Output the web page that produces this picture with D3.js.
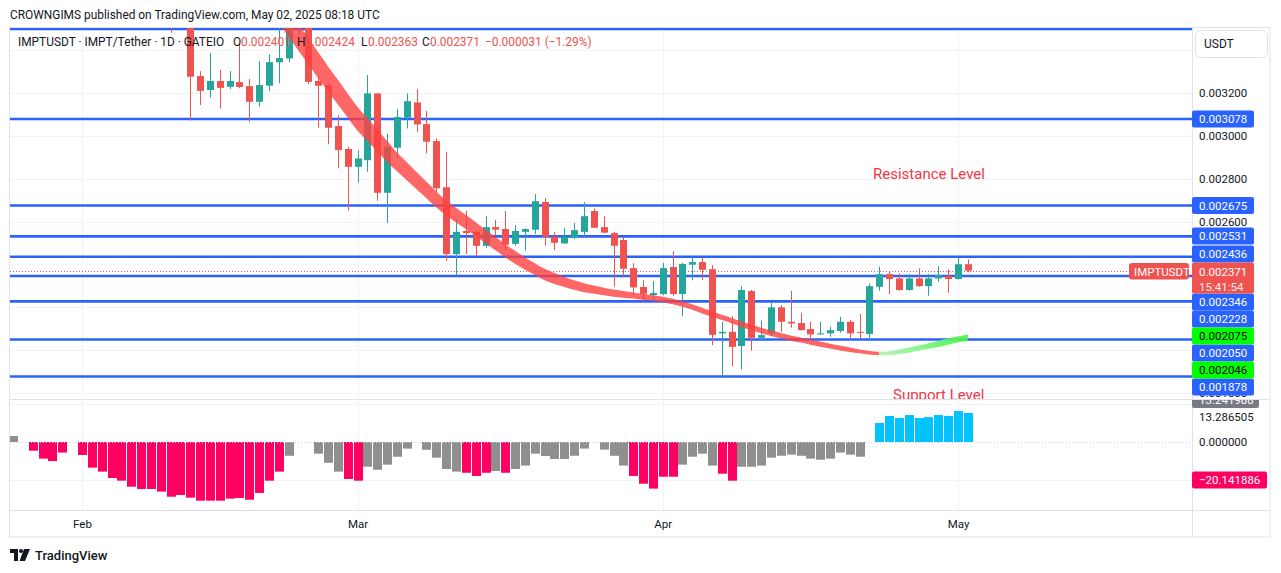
<!DOCTYPE html>
<html>
<head>
<meta charset="utf-8">
<script src="https://cdn.jsdelivr.net/npm/d3@7/dist/d3.min.js"></script>
<style>
html,body{margin:0;padding:0;background:#fff;}
svg{display:block;}
text{font-family:Roboto,"Noto Sans",Arial,sans-serif;}
</style>
</head>
<body>
<svg id="chart" width="1281" height="573"></svg>
<script>
// ---------------- DATA ----------------
const candleStart = "2025-02-10";
const candleOpen  = [0.003720,0.003600,0.003550,0.003278,0.003213,0.003255,0.003228,0.003250,0.003231,0.003158,
  0.003233,0.003342,0.003360,0.003530,0.003570,0.003255,0.003236,0.003045,0.002938,0.002855,
  0.002886,0.003197,0.002734,0.002944,0.003084,0.003155,0.003054,0.002975,0.002760,0.002448,
  0.002556,0.002552,0.002487,0.002574,0.002565,0.002496,0.002552,0.002562,0.002691,0.002529,
  0.002498,0.002524,0.002552,0.002649,0.002574,0.002546,0.002514,0.002383,0.002295,0.002257,
  0.002262,0.002388,0.002262,0.002399,0.002411,0.002378,0.002079,0.002086,0.002020,0.002276,
  0.002058,0.002079,0.002200,0.002133,0.002127,0.002099,0.002074,0.002079,0.002090,0.002133,
  0.002086,0.002076,0.002296,0.002355,0.002335,0.002281,0.002335,0.002299,0.002335,0.002346,
  0.002332,0.002401];
const candleHigh  = [0.003750,0.003680,0.003580,0.003301,0.003385,0.003306,0.003301,0.003430,0.003264,0.003348,
  0.003380,0.003539,0.003620,0.003630,0.003600,0.003278,0.003245,0.003096,0.002948,0.002933,
  0.003283,0.003199,0.003009,0.003124,0.003197,0.003217,0.003115,0.002988,0.002925,0.002610,
  0.002650,0.002556,0.002625,0.002607,0.002649,0.002584,0.002568,0.002728,0.002709,0.002551,
  0.002570,0.002594,0.002691,0.002661,0.002625,0.002552,0.002529,0.002406,0.002327,0.002323,
  0.002408,0.002462,0.002408,0.002433,0.002433,0.002397,0.002133,0.002159,0.002299,0.002281,
  0.002138,0.002226,0.002211,0.002277,0.002175,0.002133,0.002133,0.002110,0.002156,0.002141,
  0.002169,0.002312,0.002390,0.002369,0.002358,0.002355,0.002382,0.002355,0.002392,0.002377,
  0.002433,0.002424];
const candleLow   = [0.003480,0.003520,0.003070,0.003143,0.003177,0.003127,0.003217,0.003221,0.003063,0.003135,
  0.003208,0.003244,0.003342,0.003469,0.003241,0.003037,0.002960,0.002848,0.002650,0.002781,
  0.002832,0.002697,0.002594,0.002894,0.003034,0.003018,0.002918,0.002736,0.002417,0.002347,
  0.002448,0.002439,0.002478,0.002537,0.002467,0.002487,0.002464,0.002542,0.002487,0.002467,
  0.002497,0.002517,0.002529,0.002570,0.002546,0.002296,0.002340,0.002257,0.002226,0.002226,
  0.002256,0.002254,0.002161,0.002327,0.002327,0.002024,0.001877,0.001926,0.001910,0.001998,
  0.002044,0.002066,0.002086,0.002105,0.002092,0.002048,0.002073,0.002063,0.002082,0.002052,
  0.002056,0.002044,0.002277,0.002262,0.002278,0.002278,0.002296,0.002254,0.002319,0.002268,
  0.002330,0.002363];
const candleClose = [0.003600,0.003550,0.003275,0.003209,0.003255,0.003223,0.003255,0.003227,0.003158,0.003236,
  0.003343,0.003362,0.003560,0.003590,0.003251,0.003233,0.003037,0.002933,0.002855,0.002894,
  0.003197,0.002734,0.002947,0.003087,0.003161,0.003053,0.002972,0.002755,0.002448,0.002552,
  0.002546,0.002487,0.002574,0.002562,0.002492,0.002556,0.002565,0.002695,0.002529,0.002501,
  0.002529,0.002560,0.002625,0.002571,0.002548,0.002487,0.002380,0.002293,0.002263,0.002267,
  0.002383,0.002262,0.002402,0.002411,0.002375,0.002072,0.002086,0.002016,0.002281,0.002058,
  0.002071,0.002200,0.002133,0.002125,0.002094,0.002074,0.002079,0.002094,0.002133,0.002079,
  0.002083,0.002299,0.002355,0.002332,0.002281,0.002335,0.002299,0.002335,0.002350,0.002332,
  0.002401,0.002371];

const bandStart = "2025-02-21";
const bandTrendUpFrom = "2025-04-23";
const bandUpper = [0.003653,0.003586,0.003522,0.003454,0.003389,0.003323,0.003261,0.003196,
  0.003134,0.003082,0.003029,0.002975,0.002922,0.002876,0.002830,0.002785,0.002740,0.002698,0.002664,0.002630,
  0.002597,0.002562,0.002529,0.002494,0.002464,0.002433,0.002406,0.002380,0.002360,0.002341,0.002326,0.002313,
  0.002302,0.002292,0.002283,0.002276,0.002269,0.002263,0.002256,
  0.002249,0.002240,0.002228,0.002214,0.002198,0.002182,0.002166,0.002151,0.002135,0.002119,0.002105,0.002093,
  0.002081,0.002069,0.002060,0.002050,0.002041,0.002031,0.002022,0.002013,0.002004,0.001997,0.001993,0.001996,
  0.002004,0.002013,0.002022,0.002033,0.002043,0.002056,0.002064,0.002075];
const bandLower = [0.003523,0.003461,0.003396,0.003333,0.003268,0.003206,0.003145,0.003084,
  0.003023,0.002975,0.002926,0.002878,0.002834,0.002792,0.002750,0.002708,0.002665,0.002628,0.002596,0.002565,
  0.002532,0.002499,0.002466,0.002433,0.002403,0.002375,0.002351,0.002326,0.002309,0.002295,0.002282,0.002271,
  0.002264,0.002257,0.002250,0.002245,0.002241,0.002235,0.002231,
  0.002224,0.002214,0.002203,0.002189,0.002172,0.002156,0.002141,0.002126,0.002109,0.002093,0.002079,0.002067,
  0.002056,0.002045,0.002036,0.002026,0.002017,0.002008,0.001999,0.001992,0.001986,0.001980,0.001977,0.001978,
  0.001983,0.001989,0.001999,0.002007,0.002015,0.002026,0.002037,0.002046];

const histStart = "2025-01-25";
const histValues = [3.2,0,-4.6,-8.8,-10.1,-5.6,0,
  -6.9,-13.6,-15.7,-19.1,-20.5,-23.7,-24.9,-24.9,-26.3,-29.0,-28.1,-29.5,-31.1,-31.1,-31.1,-30.0,-29.7,-30.6,-27.0,-20.5,-15.7,-7.3,0,0,-6.2,-11.0,-15.7,-19.6,
  -20.5,-13.1,-14.7,-12.0,-7.8,-3.5,0,-4.1,-8.3,-14.3,-15.7,-16.3,-18.0,-16.3,-15.4,-16.3,-14.3,-12.5,-6.2,-7.4,-9.0,-9.0,-7.3,-3.5,0,-4.0,-7.3,-12.5,-18.0,-22.1,-24.7,
  -18.4,-18.4,-12.0,-7.8,-6.2,-12.5,-16.8,-20.5,-13.1,-13.1,-12.5,-8.3,-7.3,-6.7,-7.3,-8.8,-9.4,-8.8,-5.6,-6.7,-7.8,0,10.1,13.8,12.7,14.3,12.7,13.2,14.3,13.8,
  16.4,15.4];
const histState = ["N","N","D","D","D","D","N",
  "D","D","D","D","D","D","D","D","D","D","D","D","D","D","D","D","D","D","D","D","D","N","N","N","N","N","N","D",
  "D","N","N","N","N","N","N","N","N","N","N","D","D","D","N","D","N","N","N","N","N","N","N","N","N","N","N","N","D","D","D",
  "D","D","N","N","N","N","D","D","N","N","N","N","N","N","N","N","N","N","N","N","N","N","U","U","U","U","U","U","U","U",
  "U","U"];

const levelPrices = [0.003497,0.003078,0.002675,0.002531,0.002436,0.002346,0.002228,0.002050,0.001878];
const maLabelPrices = [0.002075,0.002046];
const lastPrice = 0.002371;
const countdown = "15:41:54";
const priceGridTicks = [0.0018,0.0020,0.0022,0.0024,0.0026,0.0028,0.0030,0.0032,0.0034];
const priceLabelTicks = [0.0018,0.0026,0.0028,0.0030,0.0032];
const histTickValues = [13.286505,0];
const histMarkerValue = -20.141886;
const histHiddenValue = "13.241988";
const monthTicks = ["2025-02-01","2025-03-01","2025-04-01","2025-05-01"];
const legendOHLC = {o:"0.002401",h:"0.002424",l:"0.002363",c:"0.002371",chg:"\u22120.000031 (\u22121.29%)"};

// ---------------- LAYOUT ----------------
const PL=10, PR=1192, PT=28, PB=399, IT=400, IB=510, FB=537, FR=1270;
// label slots on the price axis after collision stacking (pixel centres)
const levelLabelSlot = {"0.003078":119,"0.002675":205.5,"0.002531":236,"0.002436":254,"0.002346":302,"0.002228":319,"0.002050":353,"0.001878":387};
const maLabelSlot = {"0.002075":336,"0.002046":370};
const lastLabelTop = 262.5;

const parse = d3.utcParse("%Y-%m-%d");
const svg = d3.select("#chart");
const x = d3.scaleUtc().domain([parse("2025-02-01"), parse("2025-05-01")]).range([82, 958]);
const yP = d3.scaleLinear().domain([0.001773, 0.003502]).range([PB, PT]);
const yH = d3.scaleLinear().domain([-36.04, 22.26]).range([IB, IT]);
const fmt6 = d3.format(".6f");
const UP="#26a69a", DN="#ef5350", BLUE="#2962ff", TXT="#131722", GRID="#f0f3fa", BORDER="#e0e3eb";

svg.append("rect").attr("width",1281).attr("height",573).attr("fill","#fff");
const defs = svg.append("defs");
function clip(id,x0,y0,w,h){defs.append("clipPath").attr("id",id).append("rect").attr("x",x0).attr("y",y0).attr("width",w).attr("height",h);}
clip("cMain",PL,PT,PR-PL,PB-PT);
clip("cInd",PL,IT,PR-PL,IB-IT);
clip("cAxMain",PR,PT,FR-PR,PB-PT);
clip("cAxInd",PR,IT,FR-PR,IB-IT);

// header
svg.append("text").attr("x",10).attr("y",19).attr("font-size",11.9).attr("fill",TXT)
  .text("CROWNGIMS published on TradingView.com, May 02, 2025 08:18 UTC");

// frame
svg.append("rect").attr("x",9.5).attr("y",27.5).attr("width",FR-9.5).attr("height",FB-27.5)
  .attr("fill","none").attr("stroke",BORDER);
svg.append("line").attr("x1",PR+0.5).attr("x2",PR+0.5).attr("y1",27.5).attr("y2",FB).attr("stroke",BORDER);
svg.append("line").attr("x1",9.5).attr("x2",FR).attr("y1",399.5).attr("y2",399.5).attr("stroke",BORDER);
svg.append("line").attr("x1",9.5).attr("x2",FR).attr("y1",IB+0.5).attr("y2",IB+0.5).attr("stroke",BORDER);

// grid
const months = monthTicks.map(parse);
svg.append("g").selectAll("line").data(months).join("line")
  .attr("x1",d=>Math.round(x(d))+0.5).attr("x2",d=>Math.round(x(d))+0.5)
  .attr("y1",PT).attr("y2",IB).attr("stroke",GRID);
const main = svg.append("g").attr("clip-path","url(#cMain)");
main.append("g").selectAll("line").data(priceGridTicks).join("line")
  .attr("x1",PL).attr("x2",PR).attr("y1",d=>Math.round(yP(d))+0.5).attr("y2",d=>Math.round(yP(d))+0.5).attr("stroke",GRID);

// level lines
main.append("g").selectAll("line").data(levelPrices).join("line")
  .attr("x1",PL).attr("x2",PR).attr("y1",d=>yP(d)).attr("y2",d=>yP(d))
  .attr("stroke",BLUE).attr("stroke-width",2.6);

// last price dotted line
main.append("line").attr("x1",PL).attr("x2",1129).attr("y1",Math.round(yP(lastPrice))+0.5).attr("y2",Math.round(yP(lastPrice))+0.5)
  .attr("stroke",DN).attr("stroke-dasharray","1,2");

// legend (drawn below candles)
const leg = svg.append("g").attr("font-size",11.9);
leg.append("text").attr("x",18).attr("y",46).attr("fill",TXT).text("IMPTUSDT \u00b7 IMPT/Tether \u00b7 1D \u00b7 GATEIO");
[["O",233,legendOHLC.o,241],["H",297,legendOHLC.h,305],["L",361,legendOHLC.l,368],["C",422,legendOHLC.c,430]].forEach(p=>{
  leg.append("text").attr("x",p[1]).attr("y",46).attr("fill",TXT).text(p[0]);
  leg.append("text").attr("x",p[3]).attr("y",46).attr("fill",DN).text(p[2]);
});
leg.append("text").attr("x",485).attr("y",46).attr("fill",DN).text(legendOHLC.chg);

// candles
const start = parse(candleStart);
const candles = candleOpen.map((o,i)=>({date:d3.utcDay.offset(start,i),o,h:candleHigh[i],l:candleLow[i],c:candleClose[i]}));
const cg = main.append("g").selectAll("g").data(candles).join("g");
cg.append("rect").attr("x",d=>Math.round(x(d.date))).attr("width",1)
  .attr("y",d=>yP(d.h)).attr("height",d=>yP(d.l)-yP(d.h))
  .attr("fill",d=>d.c>=d.o?UP:DN);
cg.append("rect").attr("x",d=>Math.round(x(d.date))-3).attr("width",7)
  .attr("y",d=>yP(Math.max(d.o,d.c))).attr("height",d=>Math.max(1,Math.abs(yP(d.o)-yP(d.c))))
  .attr("fill",d=>d.c>=d.o?UP:DN);

// MA band
const bStart = parse(bandStart);
const band = bandUpper.map((u,i)=>({date:d3.utcDay.offset(bStart,i),u,l:bandLower[i]}));
const split = band.findIndex(d=>+d.date===+parse(bandTrendUpFrom));
const area = d3.area().x(d=>x(d.date)).y0(d=>yP(d.l)).y1(d=>yP(d.u)).curve(d3.curveMonotoneX);
const gr = defs.append("linearGradient").attr("id","gGreen").attr("gradientUnits","userSpaceOnUse")
  .attr("x1",x(band[split].date)).attr("x2",x(band[band.length-1].date)).attr("y1",0).attr("y2",0);
gr.append("stop").attr("offset",0).attr("stop-color","#b3f2b3");
gr.append("stop").attr("offset",1).attr("stop-color","#45f545");
main.append("path").datum(band.slice(0,split+1)).attr("d",area).attr("fill","#ff4040").attr("opacity",0.8);
main.append("path").datum(band.slice(split)).attr("d",area).attr("fill","url(#gGreen)").attr("opacity",0.92);

// annotations
main.append("text").attr("x",873).attr("y",179).attr("font-size",15).attr("fill","#f23645").text("Resistance Level");
main.append("text").attr("x",893).attr("y",400).attr("font-size",15).attr("fill","#f23645").text("Support Level");

// indicator pane
const ind = svg.append("g").attr("clip-path","url(#cInd)");
ind.append("g").selectAll("line").data([20,-20]).join("line")
  .attr("x1",PL).attr("x2",PR).attr("y1",d=>Math.round(yH(d))+0.5).attr("y2",d=>Math.round(yH(d))+0.5).attr("stroke",GRID);
const hStart = parse(histStart);
const hist = histValues.map((v,i)=>({date:d3.utcDay.offset(hStart,i),v,s:histState[i]}));
const hColor = {D:"#ff0062",N:"#8f8f8f",U:"#00c3ff"};
ind.append("g").selectAll("rect").data(hist.filter(d=>d.v!==0)).join("rect")
  .attr("x",d=>Math.round(x(d.date))-4).attr("width",9)
  .attr("y",d=>Math.min(yH(d.v),yH(0))).attr("height",d=>Math.abs(yH(d.v)-yH(0)))
  .attr("fill",d=>hColor[d.s]);
ind.append("line").attr("x1",PL).attr("x2",PR).attr("y1",Math.round(yH(0))+0.5).attr("y2",Math.round(yH(0))+0.5)
  .attr("stroke","#d1d4dc").attr("stroke-dasharray","1,2");

// price axis
const axMain = svg.append("g").attr("clip-path","url(#cAxMain)");
const pa = axMain.append("g").attr("transform",`translate(${PR},0)`)
  .call(d3.axisRight(yP).tickValues(priceLabelTicks).tickSize(0).tickPadding(7).tickFormat(fmt6));
pa.select(".domain").remove();
pa.selectAll("text").attr("font-size",11.5).attr("fill",TXT).attr("font-family","Roboto,'Noto Sans',sans-serif");

function tag(g,cy,w,fill,txt,tc){
  g.append("rect").attr("x",PR).attr("y",cy-8.5).attr("width",w).attr("height",17).attr("rx",2).attr("fill",fill);
  g.append("text").attr("x",PR+7).attr("y",cy+4).attr("font-size",11.5).attr("fill",tc).text(txt);
}
levelPrices.forEach(p=>{
  const k=fmt6(p);
  if(levelLabelSlot[k]!==undefined) tag(axMain,levelLabelSlot[k],62,BLUE,k,"#fff");
});
maLabelPrices.forEach(p=>{const k=fmt6(p); tag(axMain,maLabelSlot[k],62,"#00ff00",k,"#000");});
// last price tag
axMain.append("rect").attr("x",PR).attr("y",lastLabelTop).attr("width",62).attr("height",31).attr("rx",2).attr("fill",DN);
axMain.append("text").attr("x",PR+7).attr("y",lastLabelTop+13.5).attr("font-size",11.5).attr("fill","#fff").text(fmt6(lastPrice));
axMain.append("text").attr("x",PR+7).attr("y",lastLabelTop+28).attr("font-size",11.5).attr("fill","#fff").attr("opacity",0.9).text(countdown);
svg.append("rect").attr("x",1129).attr("y",lastLabelTop+0.5).attr("width",60).attr("height",16.5).attr("rx",3).attr("fill",DN);
svg.append("text").attr("x",1134).attr("y",lastLabelTop+13).attr("font-size",11.5).attr("fill","#fff").text("IMPTUSDT");

// USDT box
svg.append("rect").attr("x",1195.5).attr("y",30.5).attr("width",72).attr("height",27).attr("rx",5).attr("fill","#fff").attr("stroke",BORDER);
svg.append("text").attr("x",1204).attr("y",48).attr("font-size",12).attr("fill",TXT).text("USDT");

// indicator axis
const axInd = svg.append("g").attr("clip-path","url(#cAxInd)");
const ia = axInd.append("g").attr("transform",`translate(${PR},0)`)
  .call(d3.axisRight(yH).tickValues(histTickValues).tickSize(0).tickPadding(7).tickFormat(fmt6));
ia.select(".domain").remove();
ia.selectAll("text").attr("font-size",11.5).attr("fill",TXT).attr("font-family","Roboto,'Noto Sans',sans-serif");
axInd.append("rect").attr("x",PR).attr("y",391).attr("width",67).attr("height",17).attr("rx",2).attr("fill","#787b86");
axInd.append("text").attr("x",PR+7).attr("y",404).attr("font-size",11.5).attr("fill","#fff").text(histHiddenValue);
axInd.append("rect").attr("x",PR).attr("y",yH(histMarkerValue)-8.5).attr("width",75).attr("height",17).attr("rx",2).attr("fill","#ff0062");
axInd.append("text").attr("x",PR+7).attr("y",yH(histMarkerValue)+4).attr("font-size",11.5).attr("fill","#fff").text(fmt6(histMarkerValue).replace("-","\u2212"));

// time axis
const ta = svg.append("g").attr("transform",`translate(0,${IB})`)
  .call(d3.axisBottom(x).tickValues(months).tickSize(0).tickPadding(10).tickFormat(d3.utcFormat("%b")));
ta.select(".domain").remove();
ta.selectAll("text").attr("font-size",11.5).attr("fill",TXT).attr("font-family","Roboto,'Noto Sans',sans-serif");

// logo
const lg = svg.append("g").attr("fill",TXT);
lg.append("rect").attr("x",10).attr("y",549).attr("width",8).attr("height",4);
lg.append("rect").attr("x",14).attr("y",549).attr("width",4).attr("height",12);
lg.append("circle").attr("cx",21).attr("cy",551).attr("r",2);
lg.append("path").attr("d","M24,549 L30,549 L25,561 L19.5,561 Z");
svg.append("text").attr("x",35).attr("y",560).attr("font-size",13).attr("font-weight",500).attr("fill",TXT).text("TradingView");
</script>
</body>
</html>
